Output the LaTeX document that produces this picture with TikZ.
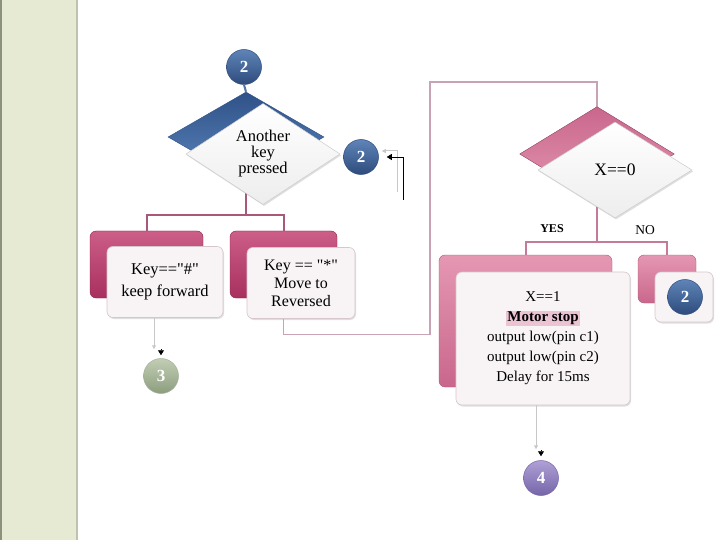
\documentclass[tikz,border=0pt]{standalone}
\usepackage{fontspec}
\setmainfont{Liberation Serif}[Ligatures=TeXOff]
\usetikzlibrary{arrows.meta,shadows,shapes.geometric,calc}
\newcommand{\dq}{\symbol{34}}
\definecolor{strip}{HTML}{E6EAD3}
\definecolor{stripdark}{HTML}{8C917C}
\definecolor{stripedge}{HTML}{BFC3AE}
\definecolor{blueA}{HTML}{5D87BE}
\definecolor{blueB}{HTML}{2F5288}
\definecolor{pinkA}{HTML}{CC5E88}
\definecolor{pinkB}{HTML}{A8305E}
\definecolor{rosA}{HTML}{E597B2}
\definecolor{rosB}{HTML}{C9678C}
\definecolor{barL}{HTML}{A9577A}
\definecolor{barR}{HTML}{C47A98}
\definecolor{loopc}{HTML}{C9A3B4}
\definecolor{frontfill}{HTML}{F8F4F6}
\definecolor{frontedge}{HTML}{D6C6CD}
\definecolor{hl}{HTML}{EBC3D3}
\definecolor{cblueA}{HTML}{5F84B8}
\definecolor{cblueB}{HTML}{2E4C7C}
\definecolor{cgreenA}{HTML}{C2CDB4}
\definecolor{cgreenB}{HTML}{8C9E7E}
\definecolor{cpurA}{HTML}{AFA0D6}
\definecolor{cpurB}{HTML}{7565A8}
\definecolor{arrgrey}{HTML}{C8C8C8}
\tikzset{
  backL/.style={rectangle, rounded corners=6pt, top color=pinkA, bottom color=pinkB, draw=pinkB!80!black, line width=0.4pt, inner sep=0pt},
  backR/.style={rectangle, rounded corners=6pt, top color=rosA, bottom color=rosB, draw=rosB!85!black, line width=0.4pt, inner sep=0pt},
  frontbox/.style={rectangle, rounded corners=6pt, fill=frontfill, draw=frontedge, line width=0.6pt, inner sep=0pt, align=center,
     drop shadow={opacity=0.25, shadow xshift=1pt, shadow yshift=-1.5pt}},
  backdia/.style={diamond, inner sep=0pt},
  frontdia/.style={diamond, inner sep=0pt, align=center, top color=white, bottom color=black!7, draw=black!20, line width=0.5pt,
     drop shadow={opacity=0.25, shadow xshift=1pt, shadow yshift=-1.5pt}},
  numcircle/.style={circle, minimum size=35pt, inner sep=0pt, text=white, font=\fontsize{17}{17}\selectfont\bfseries, line width=0.5pt},
  pinkline/.style={draw=barL, line width=2pt},
  rosline/.style={draw=barR, line width=2pt},
  loopline/.style={draw=loopc, line width=1.3pt},
  greyarr/.style={draw=arrgrey, line width=1pt, -{Triangle[length=4pt,width=4pt]}},
  blackarr/.style={draw=black, line width=0.8pt, -{Triangle[length=5pt,width=6pt]}}
}
\begin{document}
\begin{tikzpicture}[x=1pt,y=-1pt]
\useasboundingbox (0,0) rectangle (720,540);
\fill[white] (0,0) rectangle (720,540);
% left strip
\fill[strip] (0,0) rectangle (77,540);
\draw[stripdark, line width=1.5pt] (0.75,0) -- (0.75,540);
\draw[stripedge, line width=2pt] (77,0) -- (77,540);

% ---------- left column: boxes ----------
\node[backL, minimum width=113pt, minimum height=67pt] (lb) at (146.5,264.5) {};
\node[backL, minimum width=107pt, minimum height=67pt] (rb) at (283.5,264.5) {};
\node[frontbox, minimum width=116pt, minimum height=71pt, font=\fontsize{16.5}{22}\selectfont] (lf) at (165,282) {Key==\dq\#\dq\\keep forward};
\node[frontbox, minimum width=108pt, minimum height=71pt, font=\fontsize{16}{18}\selectfont] (rf) at (301,283) {Key == \dq*\dq\\Move to\\Reversed};

% ---------- right column: boxes ----------
\node[backR, minimum width=173pt, minimum height=132pt] (bb) at (525.5,321) {};
\node[backR, minimum width=58pt, minimum height=48pt] (sb) at (667,279) {};
\node[frontbox, minimum width=174pt, minimum height=133pt, font=\fontsize{15}{20}\selectfont] (bf) at (543,338.5)
  {X==1\\{\setlength{\fboxsep}{1pt}\colorbox{hl}{\bfseries Motor stop}}\\output low(pin c1)\\output low(pin c2)\\Delay for 15ms};
\node[frontbox, minimum width=58pt, minimum height=50pt] (sf) at (684,297) {};

% loop connector from right box to X==0 decision
\coordinate (lp) at (430,82);
\node[backdia, minimum width=154pt, minimum height=94pt] (dBb) at (597,154) {};
\draw[loopline] (rb.north |- rf.south) -- ++(0,16) -| (lp) -| (dBb.north);

% ---------- top decision ----------
\node[numcircle, top color=cblueA, bottom color=cblueB, draw=cblueB] (c2a) at (244,67) {2};
\node[backdia, minimum width=156pt, minimum height=90pt, top color=blueB, bottom color=blueA, draw=blueB] (dAb) at (246,137) {};
\draw[draw=blueB!80, line width=2pt] (c2a.south) -- (dAb.north);
\coordinate (barA) at (0,215);
\draw[pinkline] (dAb.south) -- (dAb.south |- barA);
\draw[pinkline] (lb.north) -- (lb.north |- barA) -- (rb.north |- barA) -- (rb.north);
\node[frontdia, minimum width=154pt, minimum height=94pt, font=\fontsize{16.5}{16}\selectfont] (dA) at (263,154) {Another\\key\\pressed};

% ---------- X==0 decision ----------
\fill[top color=rosB, bottom color=rosA] (dBb.north) -- (dBb.east) -- (dBb.south) -- (dBb.west) -- cycle;
\draw[rosB!85!black, line width=0.4pt] (dBb.north) -- (dBb.east) -- (dBb.south) -- (dBb.west) -- cycle;
\coordinate (barB) at (0,242);
\draw[rosline] (dBb.south) -- (dBb.south |- barB);
\draw[rosline] (bb.north) -- (bb.north |- barB) -- (sb.north |- barB) -- (sb.north);
\node[frontdia, minimum width=154pt, minimum height=96pt, font=\fontsize{17.5}{17.5}\selectfont] (dB) at (615,170) {X==0};
\node[font=\fontsize{12}{12}\selectfont\bfseries] (yes) at (552,229) {YES};
\node[font=\fontsize{13.5}{13.5}\selectfont] (no) at (645,230) {NO};

% ---------- connector circles ----------
\node[numcircle, top color=cblueA, bottom color=cblueB, draw=cblueB] (c2b) at (361,157) {2};
\node[numcircle, top color=cblueA, bottom color=cblueB, draw=cblueB] (c2c) at (685,297) {2};
\node[numcircle, top color=cgreenA, bottom color=cgreenB, draw=cgreenB!80] (c3) at (161,376) {3};
\node[numcircle, top color=cpurA, bottom color=cpurB, draw=cpurB] (c4) at (541,478) {4};

% ---------- arrows ----------
\coordinate (g1) at (397,192);
\coordinate (k1) at (403,200);
\draw[greyarr] (g1) |- ([xshift=3pt,yshift=6pt]c2b.east);
\draw[blackarr] (k1) |- ([xshift=8pt]c2b.east);

\draw[greyarr] ([xshift=-7pt]c3.north |- lf.south) -- ([xshift=-7pt,yshift=9pt]c3.north);
\draw[blackarr] ([yshift=9pt]c3.north) -- ([yshift=3pt]c3.north);

\draw[greyarr] ([xshift=-5pt]c4.north |- bf.south) -- ([xshift=-5pt,yshift=11pt]c4.north);
\draw[blackarr] ([yshift=10pt]c4.north) -- ([yshift=4pt]c4.north);
\end{tikzpicture}
\end{document}
